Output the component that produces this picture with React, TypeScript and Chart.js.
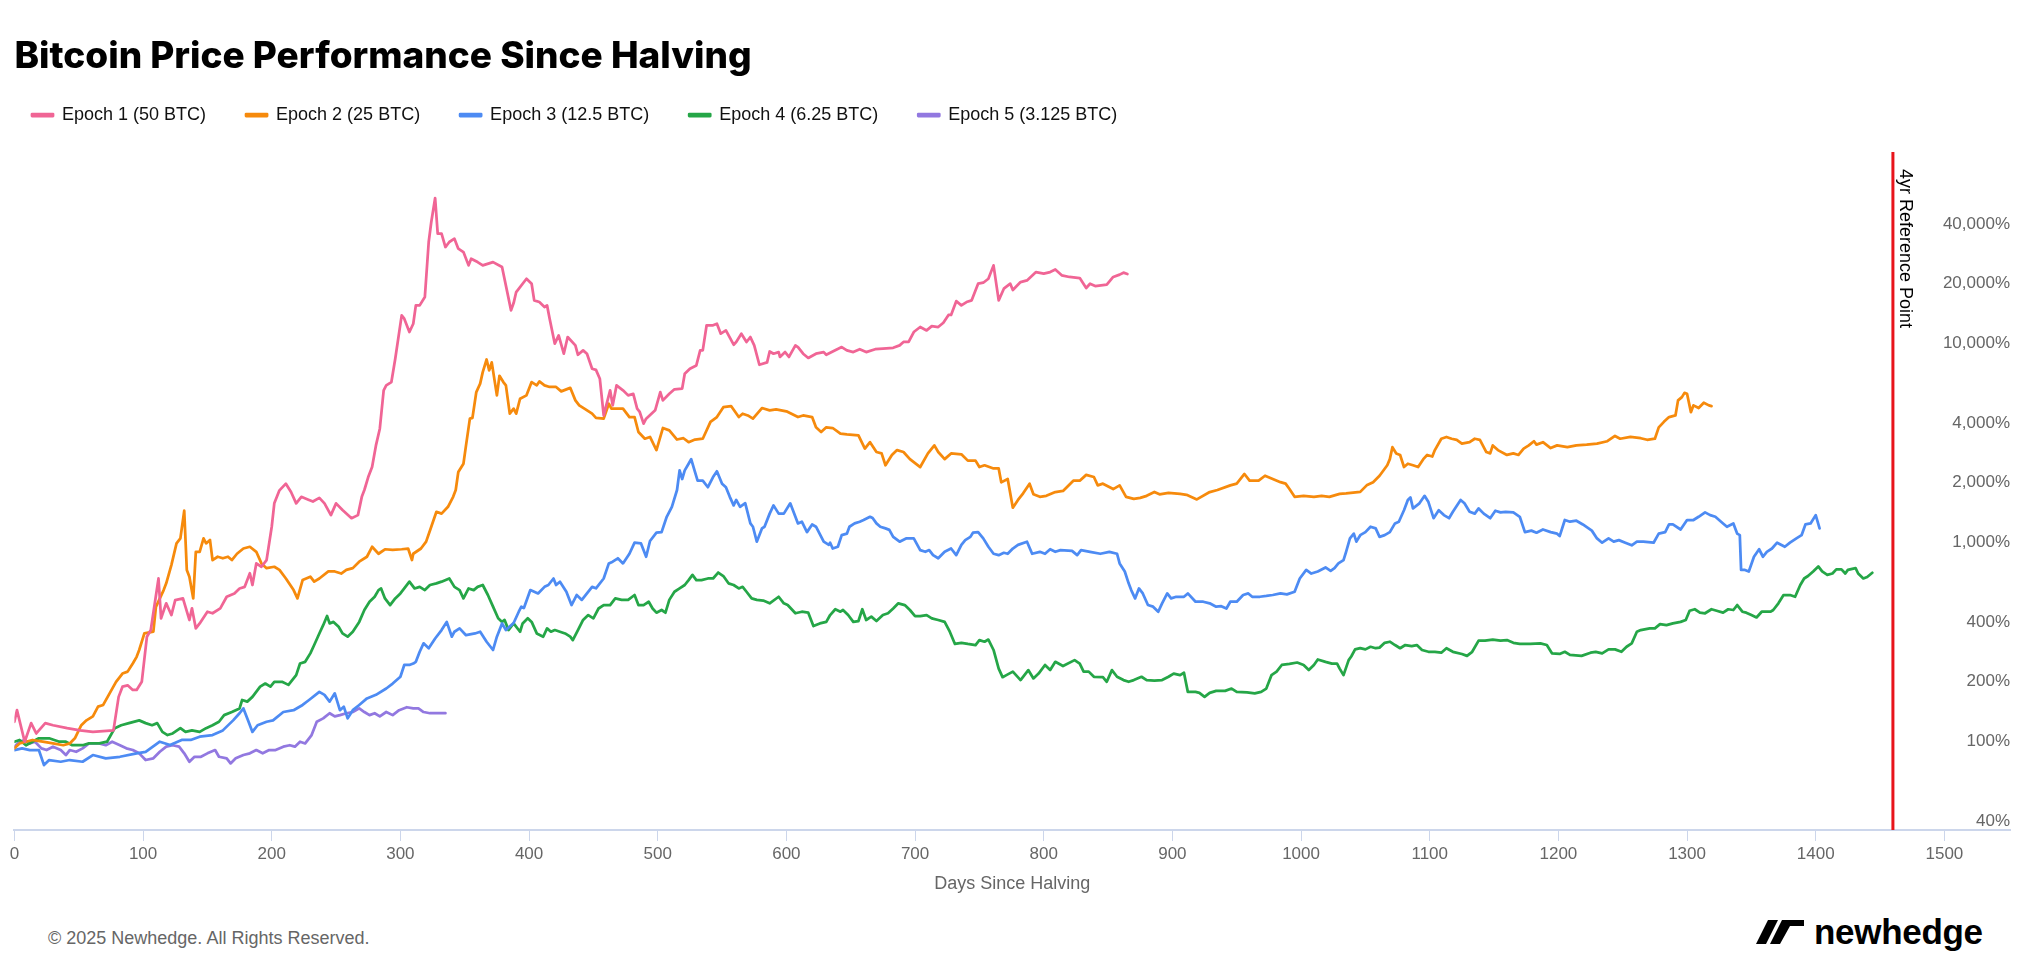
import React, { useEffect, useRef } from 'react';
import { Chart, registerables } from 'chart.js';

Chart.register(...registerables);

const FONT = '"Liberation Sans", Arial, Helvetica, sans-serif';
const TITLE_FONT = 'Inter, "Liberation Sans", Arial, sans-serif';
const TITLE = 'Bitcoin Price Performance Since Halving';
const X_TITLE = 'Days Since Halving';
const REF_LABEL = '4yr Reference Point';
const FOOTER = '\u00A9 2025 Newhedge. All Rights Reserved.';
const LOGO_TEXT = 'newhedge';

const SERIES_NAMES = ['Epoch 1 (50 BTC)', 'Epoch 2 (25 BTC)', 'Epoch 3 (12.5 BTC)', 'Epoch 4 (6.25 BTC)', 'Epoch 5 (3.125 BTC)'];
const SERIES_COLORS = ['#f06595', '#f68a0c', '#4d8bf3', '#25a647', '#9278e0'];
const REF_COLOR = '#e8141b';
const AXIS_COLOR = '#ccd6eb';
const LABEL_COLOR = '#666666';

const X_TICKS = [0, 100, 200, 300, 400, 500, 600, 700, 800, 900, 1000, 1100, 1200, 1300, 1400, 1500];
const Y_TICKS = [40, 100, 200, 400, 1000, 2000, 4000, 10000, 20000, 40000];
const X_MIN = 0;
const X_MAX = 1551;
const Y_MIN = 36;
const Y_MAX = 91900;
const REF_DAY = 1460;

// [day since halving, % of halving-day price]
const EPOCH1: [number, number][] = [
  [0,126],[2,144],[8,100],[13,124],[17,110],[24,124],[30,121],[41,117],[51,114],[61,112],
  [77,114],[81,168],[84,189],[88,192],[92,182],[95,182],[99,200],[103,337],[106,364],[112,661],
  [114,417],[118,496],[122,433],[125,515],[131,525],[136,409],[138,468],[141,371],[144,393],[150,450],
  [154,442],[160,468],[165,535],[171,556],[175,589],[179,600],[183,702],[185,613],[188,787],[192,757],
  [196,818],[200,1203],[202,1577],[206,1833],[211,1980],[215,1797],[219,1577],[223,1700],[228,1650],[232,1610],
  [237,1680],[241,1577],[246,1376],[250,1577],[255,1460],[262,1328],[267,1376],[270,1700],[272,1840],[275,2138],
  [278,2400],[281,3083],[284,3740],[287,5830],[289,6175],[293,6415],[296,8406],[301,13880],[303,13360],[307,11445],
  [310,12600],[312,15580],[315,15580],[319,17160],[322,32430],[324,40870],[327,53950],[329,35710],[332,35710],[335,30600],
  [338,32430],[342,33700],[345,30020],[349,28880],[353,24750],[355,26740],[360,25710],[364,24750],[372,25710],[379,24270],
  [386,14710],[388,16000],[390,18180],[398,21210],[402,20020],[404,16510],[408,16190],[412,15290],[414,15580],[416,13360],
  [420,10000],[423,11010],[427,8906],[430,10800],[436,9810],[438,8795],[442,9260],[445,8906],[449,7487],[452,7390],
  [455,6670],[458,4365],[460,4900],[463,5830],[465,4900],[468,6175],[473,5830],[477,5500],[481,5600],[484,4715],
  [486,4540],[489,3963],[491,4200],[498,4626],[502,5715],[504,5190],[509,5600],[513,5900],[519,5950],[521,7068],
  [525,7487],[530,7778],[533,9260],[535,9260],[538,12370],[543,12370],[546,12600],[549,11230],[553,11660],[559,9885],
  [561,10200],[565,11230],[569,10200],[572,10800],[575,9810],[579,7840],[585,8060],[587,9140],[590,8906],[594,9076],
  [595,8580],[599,9076],[602,8580],[607,9810],[609,9620],[613,8906],[617,8480],[623,8906],[629,9076],[631,8795],
  [636,9140],[643,9620],[647,9260],[652,9076],[657,9380],[662,9076],[669,9380],[675,9450],[683,9540],[688,9810],
  [691,10200],[695,10200],[699,11445],[704,12130],[709,11660],[713,12250],[718,12130],[722,12740],[726,13950],[728,13950],
  [732,16360],[736,15580],[740,16190],[744,16510],[749,20020],[753,20250],[757,21210],[761,24750],[765,16510],[769,18900],
  [774,20020],[776,18620],[782,20400],[787,20800],[794,22900],[800,22500],[805,22900],[809,23600],[814,22060],[820,21640],
  [828,21380],[833,19050],[836,20020],[840,19490],[849,19800],[854,21640],[859,22240],[862,22750],[865,22400],
];

const EPOCH2: [number, number][] = [
  [0,92.6],[4,98],[9,100],[14,102],[22,100],[30,98],[38,96],[43,98],[47,104],[52,121],
  [56,128],[61,134],[65,150],[69,153],[74,175],[79,200],[84,220],[88,225],[92,247],[95,267],
  [97,289],[101,350],[108,357],[110,476],[116,578],[118,625],[122,772],[126,992],[129,1051],[132,1448],
  [134,730],[136,675],[139,525],[141,900],[144,900],[147,1051],[149,992],[152,1033],[154,818],[158,850],
  [162,835],[166,850],[169,818],[173,880],[178,935],[183,954],[188,900],[192,787],[196,745],[202,757],
  [206,730],[211,661],[217,578],[220,525],[224,649],[230,675],[233,637],[237,661],[244,717],[249,717],
  [254,700],[258,730],[263,745],[268,803],[274,850],[278,954],[283,880],[288,927],[294,920],[301,927],
  [306,935],[309,818],[310,880],[316,935],[320,1012],[324,1203],[328,1430],[332,1400],[337,1515],[341,1700],
  [343,1840],[345,2265],[349,2494],[351,3083],[354,4200],[356,4240],[359,5715],[362,6300],[364,7200],[367,8330],
  [369,7340],[371,8060],[375,5500],[377,6900],[380,6415],[382,6175],[385,4450],[388,4715],[390,4450],[393,5290],
  [398,5500],[402,6415],[406,6175],[408,6460],[412,6175],[416,6060],[421,6060],[425,5760],[432,6000],[436,5190],
  [439,4900],[443,4715],[449,4450],[452,4240],[458,4200],[462,4993],[464,4715],[473,4715],[478,4280],[482,4280],
  [485,3600],[490,3330],[494,3400],[499,2920],[504,3770],[509,3670],[515,3300],[520,3350],[524,3200],[529,3300],
  [535,3330],[541,4050],[546,4280],[551,4800],[557,4860],[563,4280],[566,4450],[570,4360],[574,4200],[581,4750],
  [587,4626],[592,4680],[600,4575],[609,4280],[613,4360],[620,4280],[623,3800],[627,3600],[631,3800],[636,3770],
  [642,3530],[647,3500],[656,3460],[661,2970],[665,3200],[670,2855],[674,2810],[677,2450],[682,2760],[686,2920],
  [691,2855],[696,2630],[704,2400],[710,2810],[715,3083],[718,2855],[723,2630],[728,2810],[736,2780],[741,2585],
  [747,2585],[750,2400],[754,2450],[761,2360],[765,2360],[767,2010],[772,2090],[776,1500],[780,1640],[784,1770],
  [789,1980],[792,1750],[797,1700],[802,1720],[809,1797],[815,1820],[823,2050],[828,2050],[833,2192],[839,2138],
  [842,1942],[846,1980],[854,1860],[859,1942],[864,1700],[870,1660],[875,1680],[880,1720],[886,1800],[890,1750],
  [897,1780],[906,1760],[911,1740],[919,1650],[929,1797],[935,1840],[945,1942],[950,1980],[956,2215],[960,2050],
  [967,2050],[972,2170],[978,2090],[984,2015],[988,1980],[991,1860],[995,1700],[1002,1720],[1010,1700],[1016,1720],
  [1022,1700],[1030,1760],[1035,1770],[1046,1800],[1051,1942],[1056,2015],[1061,2170],[1067,2450],[1069,2630],[1071,3020],
  [1074,2810],[1077,2760],[1080,2400],[1083,2494],[1087,2450],[1091,2400],[1095,2630],[1098,2760],[1102,2710],[1104,2920],
  [1109,3330],[1113,3400],[1117,3330],[1121,3290],[1125,3150],[1131,3200],[1135,3330],[1139,3290],[1144,2855],[1147,2810],
  [1149,3083],[1153,2920],[1160,2760],[1165,2810],[1169,2760],[1173,2970],[1177,3083],[1181,3235],[1183,3110],[1188,3200],
  [1194,2990],[1199,3083],[1207,3020],[1214,3083],[1222,3110],[1230,3150],[1238,3235],[1244,3440],[1248,3330],[1256,3400],
  [1264,3350],[1269,3290],[1275,3330],[1278,3800],[1282,4050],[1286,4280],[1291,4360],[1293,5190],[1296,5390],[1298,5660],
  [1300,5600],[1303,4530],[1305,4900],[1309,4750],[1313,5050],[1317,4900],[1319,4860],
];

const EPOCH3: [number, number][] = [
  [0,90.8],[6,92.6],[12,90.8],[19,90.8],[23,76.3],[27,80.9],[36,79.3],[43,80.9],[53,79.3],[61,85.7],
  [71,82.5],[82,84],[95,87.4],[102,89],[113,100],[121,96.2],[130,102],[137,102],[144,106],[154,108],
  [162,114],[170,128],[175,139],[178,147],[182,126],[185,112],[189,121],[196,126],[201,128],[209,141],
  [217,144],[224,153],[229,162],[237,178],[241,172],[245,159],[249,175],[253,144],[256,150],[259,131],
  [263,144],[268,153],[274,165],[281,172],[289,185],[294,196],[300,212],[303,243],[307,243],[310,247],
  [312,252],[315,283],[318,312],[322,295],[327,330],[332,364],[336,400],[340,337],[342,357],[346,371],
  [351,343],[358,350],[362,357],[367,318],[372,289],[375,337],[379,393],[382,364],[388,395],[392,450],
  [394,477],[396,470],[401,578],[407,556],[412,600],[415,613],[419,661],[421,613],[424,637],[429,567],
  [433,486],[437,546],[441,516],[449,600],[452,590],[458,661],[462,787],[465,803],[469,835],[473,787],
  [478,880],[482,1000],[487,992],[491,850],[494,1020],[499,1123],[503,1130],[507,1350],[511,1515],[515,1840],
  [517,2310],[519,2090],[521,2310],[524,2494],[526,2630],[529,2265],[531,2050],[535,2050],[539,1900],[543,2138],
  [546,2285],[550,1980],[553,1900],[556,1700],[559,1540],[561,1640],[564,1515],[568,1580],[572,1250],[574,1203],
  [577,1012],[581,1180],[583,1203],[587,1400],[590,1540],[594,1400],[598,1400],[603,1577],[607,1350],[609,1250],
  [612,1275],[616,1130],[620,1235],[623,1203],[629,1012],[633,975],[634,1000],[636,935],[640,954],[643,1091],
  [647,1110],[649,1203],[653,1250],[657,1275],[660,1300],[665,1350],[667,1330],[670,1250],[673,1203],[677,1180],
  [680,1160],[683,1070],[688,1012],[693,1051],[699,1051],[704,918],[708,900],[711,918],[714,866],[718,835],
  [723,900],[728,935],[732,866],[736,975],[739,1030],[743,1070],[745,1123],[749,1130],[753,1051],[757,954],
  [761,880],[765,866],[769,890],[772,880],[776,935],[780,975],[787,1012],[791,880],[797,900],[801,880],
  [805,927],[809,900],[813,918],[822,910],[826,866],[829,918],[836,900],[844,880],[851,900],[857,880],
  [859,787],[863,717],[866,625],[868,578],[871,525],[874,589],[877,556],[881,486],[885,477],[889,450],
  [892,496],[896,556],[899,525],[903,535],[909,535],[912,556],[918,505],[924,505],[929,496],[934,477],
  [938,480],[942,467],[945,505],[950,505],[955,546],[959,556],[962,535],[968,535],[973,540],[978,546],
  [984,556],[989,550],[995,567],[999,661],[1004,730],[1008,700],[1013,717],[1019,751],[1023,722],[1026,745],
  [1029,787],[1033,818],[1035,900],[1038,1051],[1041,1110],[1043,1012],[1046,1091],[1050,1130],[1054,1203],[1058,1180],
  [1061,1070],[1065,1091],[1069,1130],[1073,1250],[1076,1275],[1080,1456],[1083,1640],[1085,1690],[1087,1487],[1090,1540],
  [1092,1577],[1096,1720],[1099,1600],[1103,1328],[1107,1456],[1111,1376],[1115,1328],[1118,1430],[1124,1640],[1127,1577],
  [1131,1430],[1135,1400],[1138,1487],[1142,1400],[1147,1328],[1151,1448],[1155,1420],[1159,1430],[1165,1420],[1170,1350],
  [1174,1130],[1179,1150],[1183,1123],[1188,1165],[1194,1130],[1199,1110],[1201,1080],[1205,1300],[1209,1275],[1214,1290],
  [1219,1235],[1226,1150],[1230,1051],[1234,1000],[1239,1051],[1243,1012],[1247,1030],[1252,1000],[1257,970],[1261,1012],
  [1266,1012],[1274,1000],[1278,1110],[1283,1130],[1286,1235],[1289,1235],[1295,1165],[1300,1300],[1305,1300],[1309,1350],
  [1314,1420],[1318,1376],[1322,1350],[1328,1250],[1331,1203],[1336,1250],[1339,1110],[1341,1091],[1342,730],[1345,730],
  [1348,717],[1352,850],[1356,927],[1359,850],[1362,900],[1366,935],[1370,1000],[1376,954],[1380,1000],[1385,1051],
  [1389,1091],[1392,1235],[1396,1250],[1400,1376],[1403,1180],
];

const EPOCH4: [number, number][] = [
  [0,100],[4,102],[9,96],[14,100],[19,104],[27,104],[35,100],[40,100],[45,96],[53,96],
  [58,98],[66,98],[72,100],[78,117],[83,121],[89,124],[97,128],[102,124],[107,121],[111,124],
  [115,112],[119,108],[123,110],[129,117],[133,112],[138,114],[144,112],[149,117],[154,121],[159,126],
  [163,136],[169,141],[175,147],[177,162],[181,159],[185,168],[191,189],[195,196],[199,189],[202,200],
  [208,200],[213,193],[219,216],[222,247],[226,252],[230,278],[233,306],[237,350],[240,385],[243,428],
  [245,393],[248,400],[252,378],[255,350],[259,337],[263,357],[268,400],[272,459],[276,505],[280,535],
  [283,578],[285,589],[288,525],[292,486],[296,525],[300,556],[303,589],[307,637],[311,589],[315,600],
  [319,578],[323,613],[328,625],[332,637],[338,661],[342,600],[346,578],[349,525],[353,589],[357,578],
  [360,600],[364,613],[368,546],[372,477],[376,417],[379,400],[381,409],[384,364],[388,393],[393,357],
  [395,393],[399,417],[402,400],[406,350],[411,337],[414,371],[417,357],[420,364],[424,357],[428,350],
  [432,337],[434,324],[438,364],[442,409],[446,433],[450,417],[454,467],[458,486],[463,486],[467,525],
  [472,516],[477,516],[482,546],[485,486],[489,486],[493,505],[496,467],[499,445],[503,459],[506,445],
  [509,516],[513,567],[517,589],[521,613],[524,649],[527,689],[530,649],[534,649],[539,661],[543,661],
  [547,708],[551,680],[555,625],[559,613],[563,589],[566,600],[569,567],[573,525],[577,516],[582,512],
  [587,496],[594,535],[598,496],[601,486],[607,442],[612,450],[617,445],[621,381],[626,393],[631,400],
  [634,433],[638,463],[642,450],[644,459],[648,433],[652,400],[656,404],[659,463],[662,409],[666,425],
  [670,404],[675,433],[679,442],[683,467],[687,496],[692,486],[696,459],[700,428],[704,428],[709,433],
  [713,417],[718,409],[723,400],[727,357],[731,310],[736,314],[741,310],[747,306],[750,324],[754,318],
  [757,326],[761,289],[765,233],[768,211],[771,216],[776,225],[782,204],[788,229],[792,208],[796,220],
  [801,243],[805,229],[809,252],[815,240],[824,257],[828,247],[831,225],[835,225],[839,212],[846,211],
  [849,200],[853,229],[857,212],[862,204],[866,200],[870,204],[876,212],[880,204],[886,203],[892,204],
  [897,212],[901,220],[906,216],[909,222],[912,178],[918,178],[921,176],[925,168],[929,176],[934,180],
  [941,180],[946,185],[950,178],[958,177],[964,175],[969,178],[973,185],[977,216],[981,225],[985,243],
  [991,246],[997,250],[1002,243],[1006,229],[1010,243],[1013,259],[1019,252],[1024,247],[1028,247],[1030,233],
  [1033,216],[1037,257],[1039,268],[1042,291],[1046,295],[1050,291],[1054,300],[1058,295],[1061,297],[1065,314],
  [1069,318],[1073,306],[1077,295],[1081,306],[1086,302],[1090,306],[1094,289],[1099,283],[1104,283],[1109,280],
  [1113,295],[1118,283],[1125,276],[1129,270],[1133,283],[1138,322],[1143,322],[1149,326],[1155,322],[1160,324],
  [1165,314],[1170,310],[1178,310],[1186,312],[1191,306],[1195,278],[1201,276],[1205,283],[1209,273],[1218,270],
  [1225,280],[1229,283],[1234,278],[1239,291],[1244,291],[1249,283],[1253,300],[1257,312],[1261,357],[1264,364],
  [1267,367],[1271,371],[1275,371],[1279,390],[1284,385],[1289,393],[1295,400],[1299,409],[1302,455],[1306,463],
  [1310,445],[1314,442],[1319,463],[1323,455],[1328,445],[1332,463],[1336,459],[1339,486],[1343,450],[1346,445],
  [1350,433],[1354,421],[1358,450],[1365,450],[1367,459],[1371,496],[1375,546],[1380,546],[1384,535],[1388,613],
  [1391,661],[1394,680],[1398,717],[1402,760],[1405,717],[1409,689],[1413,700],[1416,735],[1420,735],[1423,700],
  [1425,730],[1431,745],[1433,700],[1437,661],[1440,672],[1444,706],
];

const EPOCH5: [number, number][] = [
  [0,94.4],[4,100],[8,102],[12,98],[16,100],[21,92.6],[25,90.8],[30,94.4],[36,90.8],[40,85.7],
  [43,90.8],[48,89],[53,92.6],[58,98],[66,98],[71,96],[76,100],[82,96],[87,92.6],[92,90.8],
  [97,87.4],[102,80.9],[108,82.5],[113,89],[118,94.4],[123,96],[128,94.4],[132,87.4],[136,79.3],[140,84],
  [145,84],[150,87.4],[156,90.8],[159,84],[165,82.5],[168,77.8],[172,82.5],[178,85.7],[183,87.4],[188,90.8],
  [193,87.4],[198,90.8],[203,90.8],[209,94.4],[214,96],[218,94.4],[222,100],[226,98],[231,108],[235,126],
  [240,131],[245,139],[249,134],[253,136],[258,139],[263,141],[268,147],[272,141],[276,136],[280,139],
  [284,134],[289,141],[294,136],[299,144],[305,149],[310,147],[314,147],[318,141],[323,139],[328,139],
  [335,139],
];

const SERIES_DATA = [EPOCH1, EPOCH2, EPOCH3, EPOCH4, EPOCH5];

const LEGEND_HEIGHT = 86;

const legendHeightPlugin = {
  id: 'legendHeight',
  beforeInit(chart: any) {
    const legend = chart.legend;
    if (!legend) return;
    const origFit = legend.fit;
    legend.fit = function () {
      origFit.call(this);
      this.height = LEGEND_HEIGHT;
    };
  },
};

const refLinePlugin = {
  id: 'refLine',
  beforeDatasetsDraw(chart: any) {
    const { ctx, chartArea, scales } = chart;
    const x = scales.x.getPixelForValue(REF_DAY);
    ctx.save();
    ctx.strokeStyle = REF_COLOR;
    ctx.lineWidth = 3;
    ctx.beginPath();
    ctx.moveTo(x, chartArea.top);
    ctx.lineTo(x, chartArea.bottom);
    ctx.stroke();
    ctx.translate(x + 7.5, chartArea.top + 17);
    ctx.rotate(Math.PI / 2);
    ctx.font = `18px ${FONT}`;
    ctx.fillStyle = '#000000';
    ctx.textAlign = 'left';
    ctx.textBaseline = 'alphabetic';
    ctx.fillText(REF_LABEL, 0, 0);
    ctx.restore();
  },
};

function ChartCanvas() {
  const ref = useRef<HTMLCanvasElement | null>(null);
  useEffect(() => {
    if (!ref.current) return;
    const datasets = SERIES_DATA.map((pts, i) => ({
      label: SERIES_NAMES[i],
      data: pts.map(([d, v]) => ({ x: d, y: v })),
      borderColor: SERIES_COLORS[i],
      backgroundColor: SERIES_COLORS[i],
      borderWidth: 2.75,
      pointRadius: 0,
      pointHoverRadius: 0,
      tension: 0,
      borderJoinStyle: 'round' as const,
      borderCapStyle: 'round' as const,
    }));
    const chart = new Chart(ref.current, {
      type: 'line',
      data: { datasets },
      plugins: [legendHeightPlugin, refLinePlugin],
      options: {
        responsive: false,
        animation: false,
        devicePixelRatio: 1,
        layout: { padding: { left: 0, right: 15, top: 0, bottom: 0 } },
        font: { family: FONT },
        plugins: {
          tooltip: { enabled: false },
          title: {
            display: true,
            text: TITLE,
            align: 'start',
            fullSize: false,
            color: '#000000',
            font: { family: TITLE_FONT, size: 37, weight: 800, lineHeight: 0.5 },
            padding: { top: 47.5, bottom: 0 },
          },
          legend: {
            display: true,
            position: 'top',
            align: 'start',
            labels: {
              color: '#111111',
              font: { family: FONT, size: 18 },
              boxWidth: 21,
              boxHeight: 2,
              padding: 40,
            },
          },
        },
        scales: {
          x: {
            type: 'linear',
            min: X_MIN,
            max: X_MAX,
            afterBuildTicks: (s: any) => { s.ticks = X_TICKS.map((v) => ({ value: v })); },
            afterFit: (s: any) => { s.height = 70; },
            ticks: {
              color: LABEL_COLOR,
              font: { family: FONT, size: 17 },
              padding: 3,
              maxRotation: 0,
              autoSkip: false,
              callback: (v: any) => String(v),
            },
            grid: { display: true, drawOnChartArea: false, drawTicks: true, tickLength: 11, color: AXIS_COLOR, lineWidth: 1 },
            border: { display: true, color: AXIS_COLOR, width: 2 },
            title: {
              display: true,
              text: X_TITLE,
              color: LABEL_COLOR,
              font: { family: FONT, size: 18 },
              padding: { top: 0, bottom: 5 },
            },
          },
          y: {
            type: 'logarithmic',
            position: 'right',
            min: Y_MIN,
            max: Y_MAX,
            afterBuildTicks: (s: any) => { s.ticks = Y_TICKS.map((v) => ({ value: v })); },
            afterFit: (s: any) => { s.width = 0; },
            ticks: {
              mirror: true,
              padding: 0,
              color: LABEL_COLOR,
              font: { family: FONT, size: 17 },
              callback: (v: any) => Number(v).toLocaleString('en-US') + '%',
            },
            grid: { display: false, drawTicks: false },
            border: { display: false },
          },
          yPad: {
            type: 'linear',
            position: 'left',
            display: true,
            afterFit: (s: any) => { s.width = 22.4; },
            ticks: { display: false },
            grid: { display: false, drawTicks: false },
            border: { display: false },
          },
        },
      } as any,
    });
    return () => chart.destroy();
  }, []);
  return <canvas ref={ref} width={2033} height={900} style={{ width: 2033, height: 900, display: 'block' }} />;
}

function Logo() {
  return (
    <div style={{ position: 'absolute', left: 1756, top: 914, height: 36, display: 'flex', alignItems: 'center' }}>
      <svg width="52" height="24" viewBox="0 0 52 24" style={{ marginRight: 6 }}>
        <polygon points="0,24 12,0 22,0 10,24" fill="#000" />
        <polygon points="14,24 26,0 48,0 48,6 34,6 24,24" fill="#000" />
      </svg>
      <span style={{ fontFamily: FONT, fontWeight: 700, fontSize: 35, color: '#000', letterSpacing: -0.3, lineHeight: '36px' }}>{LOGO_TEXT}</span>
    </div>
  );
}

export default function App() {
  return (
    <div style={{ position: 'absolute', left: 0, top: 0, width: 2025, height: 975, overflow: 'hidden', background: '#fff' }}>
      <div style={{ position: 'absolute', left: -8, top: 0 }}>
        <ChartCanvas />
      </div>
      <div style={{ position: 'absolute', left: 48, top: 928, fontFamily: FONT, fontSize: 18, lineHeight: '20px', color: LABEL_COLOR }}>{FOOTER}</div>
      <Logo />
    </div>
  );
}
